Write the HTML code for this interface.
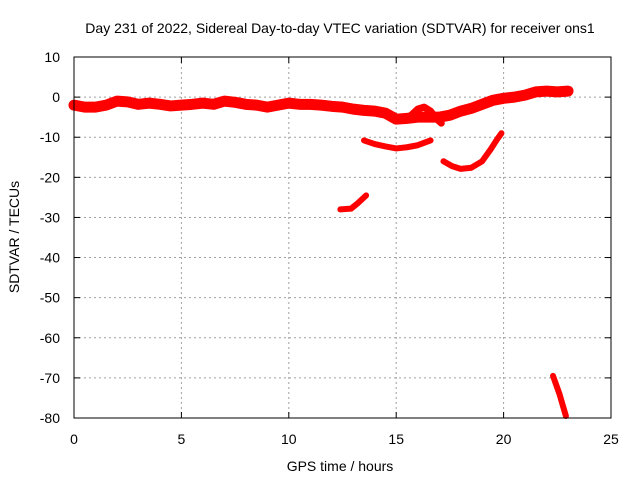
<!DOCTYPE html>
<html><head><meta charset="utf-8"><style>
body{margin:0;background:#fff;}
svg{display:block;font-family:"Liberation Sans",sans-serif;font-size:14px;}
</style></head><body>
<svg id="chart" width="640" height="480"></svg>
<script>
const xTicks=[0,5,10,15,20,25];
const yTicks=[10,0,-10,-20,-30,-40,-50,-60,-70,-80];
const mainBand=[[0,-2],[0.5,-2.5],[1,-2.5],[1.5,-2],[2,-1],[2.5,-1.2],[3,-1.8],[3.5,-1.5],[4,-1.8],[4.5,-2.2],[5,-2],[5.5,-1.8],[6,-1.5],[6.5,-1.8],[7,-1],[7.5,-1.3],[8,-1.8],[8.5,-2],[9,-2.5],[9.5,-2],[10,-1.5],[10.5,-1.8],[11,-1.8],[11.5,-2],[12,-2.3],[12.5,-2.5],[13,-3],[13.5,-3.3],[14,-3.5],[14.5,-4],[15,-5.5],[15.5,-5.3],[16,-5],[16.5,-5],[17,-5],[17.5,-4.5],[18,-3.5],[18.5,-2.8],[19,-1.8],[19.5,-0.8],[20,-0.3],[20.5,0],[21,0.5],[21.5,1.3],[22,1.5],[22.5,1.3],[23,1.5]];
const hump=[[15.7,-4.5],[16,-3],[16.3,-2.5],[16.6,-3.5],[16.9,-5.5],[17.1,-6.5]];
const arc1=[[13.5,-10.8],[14,-11.7],[14.5,-12.3],[15,-12.8],[15.5,-12.5],[16,-12],[16.6,-10.8]];
const arc2=[[17.2,-16],[17.6,-17.2],[18,-17.9],[18.5,-17.6],[19,-16],[19.4,-13],[19.7,-10.5],[19.9,-9]];
const seg3=[[12.4,-28],[12.9,-27.8],[13.2,-26.5],[13.6,-24.5]];
const seg4=[[22.3,-69.5],[22.6,-74],[22.9,-79.5]];
const series=[mainBand,hump,arc1,arc2,seg3,seg4];
const names=['main-band','hump-branch','arc-14h','arc-18h','segment-13h','segment-22h'];
const widths=[11,7,6,6,6,6];
const X0=74,X1=611,Y0=57,Y1=418;
const sx=v=>X0+(v-0)/25*(X1-X0);
const sy=v=>Y0+(10-v)/90*(Y1-Y0);
const svg=document.getElementById('chart');
const NS='http://www.w3.org/2000/svg';
function mk(t,a){const e=document.createElementNS(NS,t);for(const k in a)e.setAttribute(k,a[k]);svg.appendChild(e);return e;}
xTicks.forEach(t=>{
 if(t>0&&t<25){const g=mk('line',{x1:sx(t),x2:sx(t),y1:Y0,y2:Y1,stroke:'#a0a0a0','stroke-dasharray':'2,3'});
 
 }
 const tk=mk('line',{x1:sx(t),x2:sx(t),y1:Y1,y2:Y1-6,stroke:'#000'});
 
 
 const tk2=mk('line',{x1:sx(t),x2:sx(t),y1:Y0,y2:Y0+6,stroke:'#000'});
 
 
 const l=mk('text',{x:sx(t),y:Y1+26,'text-anchor':'middle'});l.textContent=t;
 
 
});
yTicks.forEach(t=>{
 if(t<10&&t>-80){const g=mk('line',{x1:X0,x2:X1,y1:sy(t),y2:sy(t),stroke:'#a0a0a0','stroke-dasharray':'2,3'});
 
 }
 const tk=mk('line',{x1:X0,x2:X0+6,y1:sy(t),y2:sy(t),stroke:'#000'});
 
 
 const tk2=mk('line',{x1:X1,x2:X1-6,y1:sy(t),y2:sy(t),stroke:'#000'});
 
 
 const l=mk('text',{x:X0-14,y:sy(t)+5,'text-anchor':'end'});l.textContent=t;
 
 
});
series.forEach((s,i)=>{
 const p=mk('polyline',{points:s.map(d=>sx(d[0])+','+sy(d[1])).join(' '),fill:'none',stroke:'#f00','stroke-width':widths[i],'stroke-linejoin':'round','stroke-linecap':'round'});
 
 
});
const fr=mk('rect',{x:X0,y:Y0,width:X1-X0,height:Y1-Y0,fill:'none',stroke:'#000'});


const ti=mk('text',{x:340,y:33,'text-anchor':'middle'});ti.textContent='Day 231 of 2022, Sidereal Day-to-day VTEC variation (SDTVAR) for receiver ons1';


const xt=mk('text',{x:340,y:471,'text-anchor':'middle'});xt.textContent='GPS time / hours';


const yt=mk('text',{x:0,y:0,'text-anchor':'middle',transform:'translate(19,237) rotate(-90)'});yt.textContent='SDTVAR / TECUs';


</script>
</body></html>
